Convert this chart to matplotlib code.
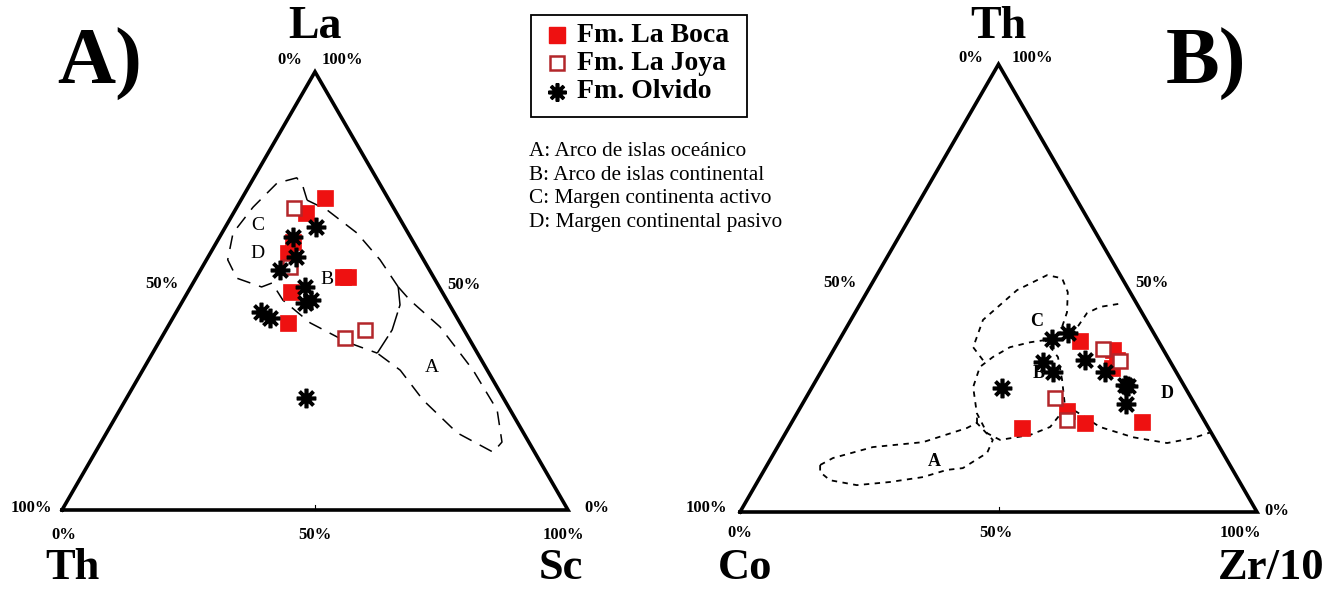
import numpy as np
import matplotlib
matplotlib.use("Agg")
import matplotlib.pyplot as plt

# ---------------- data (ternary compositions, %) ----------------
# Diagram A: La (top) - Th (left) - Sc (right)
a_boca_la = [71.2, 67.8, 61.2, 58.7, 53.2, 53.2, 49.8, 42.7]
a_boca_sc = [16.4, 14.3, 15.1, 15.3, 28.9, 29.9, 20.4, 23.3]
a_joya_la = [68.9, 55.5, 39.3, 41.1]
a_joya_sc = [11.4, 17.3, 36.3, 39.3]
a_olv_la = [64.6, 62.3, 57.7, 54.8, 50.9, 47.9, 47.2, 45.2, 43.8, 25.6]
a_olv_sc = [17.9, 14.5, 17.4, 15.7, 22.6, 25.2, 24.4, 16.7, 19.2, 35.4]

# Diagram B: Th (top) - Co (left) - Zr/10 (right)
b_boca_th = [38.2, 36.2, 33.9, 32.1, 22.5, 19.9, 18.8, 20.1]
b_boca_zr = [46.7, 54.0, 56.0, 55.9, 52.0, 56.8, 45.2, 67.7]
b_joya_th = [36.4, 33.7, 25.4, 20.5]
b_joya_zr = [52.0, 56.7, 48.2, 53.0]
b_olv_th = [38.6, 40.0, 33.9, 31.3, 33.5, 27.7, 31.3, 28.4, 28.1, 24.1]
b_olv_zr = [41.0, 43.4, 49.8, 44.9, 41.9, 36.8, 55.0, 60.3, 61.0, 62.6]

# Field boundaries (top %, right %)
a_field_cd = [(70.7, 13.1), (73.7, 10.8), (75.8, 8.5), (74.6, 5.2), (69.1, 3.2), (63.2, 2.2),
              (57.1, 4.2), (52.9, 8.1), (50.9, 14.0), (51.8, 15.6), (47.9, 19.7),
              (42.7, 27.7), (38.3, 37.2), (35.8, 44.4)]
a_field_b_top = [(70.7, 13.1), (68.5, 18.1), (63.2, 26.7), (57.1, 34.3), (50.9, 41.0)]
a_field_arc = [(50.9, 41.0), (46.8, 43.4), (41.1, 44.7), (35.8, 44.4)]
a_field_a = [(50.9, 41.0), (47.9, 44.8), (41.8, 53.8), (31.9, 65.3), (22.8, 74.6), (15.5, 79.2),
             (13.2, 78.6), (17.6, 69.3), (25.1, 58.8), (31.9, 50.9), (35.8, 44.4)]

b_field_c = [(33.9, 30.05), (36.8, 26.7), (42.9, 25.55), (49.55, 28.8), (52.9, 32.95),
             (52.2, 36.2), (49.1, 38.85), (44.6, 40.95), (40.0, 41.9)]
b_field_b = [(38.4, 39.8), (37.9, 37.15), (36.8, 33.8), (34.6, 31.6), (32.4, 30.2), (27.9, 31.15),
             (22.1, 34.75), (17.6, 39.0), (16.1, 42.25), (17.2, 47.5), (19.0, 50.5), (23.2, 51.3),
             (29.5, 47.55), (34.6, 44.2), (38.4, 39.8)]
b_field_d_top = [(39.5, 44.45), (44.4, 44.9), (45.8, 46.7), (46.65, 50.8)]
b_field_d_bot = [(23.9, 50.95), (22.3, 54.05), (19.0, 60.1), (16.7, 67.65), (15.4, 74.9),
                 (16.5, 79.35), (17.9, 82.35)]
b_field_a = [(10.5, 10.25), (12.05, 11.95), (14.5, 18.45), (15.6, 27.6), (18.75, 34.5),
             (19.9, 35.85), (16.1, 40.85), (13.2, 41.2), (9.8, 38.2), (9.4, 35.3), (7.8, 31.5),
             (6.7, 25.65), (6.0, 19.6), (7.1, 13.85), (8.9, 11.05), (10.5, 10.25)]
b_field_link = [(19.9, 35.85), (22.1, 34.75)]

legend_labels = ["Fm. La Boca", "Fm. La Joya", "Fm. Olvido"]
field_labels = ["A: Arco de islas oceánico", "B: Arco de islas continental",
                "C: Margen continenta activo", "D: Margen continental pasivo"]

# ---------------- layout ----------------
W, H = 1327, 589
fig = plt.figure(figsize=(W / 100, H / 100), dpi=100)
ax = fig.add_axes([0, 0, 1, 1])
ax.set_xlim(0, W)
ax.set_ylim(H, 0)
ax.axis("off")

SERIF = ["Liberation Serif", "DejaVu Serif"]
RED = "#ee1111"
DARKRED = "#b3262a"

triA = dict(x0=62, y0=510, side=506)
triB = dict(x0=740, y0=512, side=517)


def tern(tri, top, right):
    top = np.asarray(top, float) / 100.0
    right = np.asarray(right, float) / 100.0
    h = tri["side"] * np.sqrt(3) / 2
    x = tri["x0"] + tri["side"] * (right + top / 2)
    y = tri["y0"] - h * top
    return x, y


def draw_triangle(tri):
    x, y = tern(tri, [0, 0, 100, 0], [0, 100, 0, 0])
    ax.plot(x, y, color="black", lw=2.6, solid_joinstyle="miter", zorder=3)
    mx, my = tern(tri, [0], [50])
    ax.plot([mx[0], mx[0]], [my[0], my[0] - 5], color="black", lw=0.8, zorder=3)


def draw_field(tri, pts, **kw):
    t = [p[0] for p in pts]
    r = [p[1] for p in pts]
    x, y = tern(tri, t, r)
    ax.plot(x, y, color="black", zorder=2, **kw)


def draw_points(tri, boca_t, boca_r, joya_t, joya_r, olv_t, olv_r, sq=12, osq=10.5):
    x, y = tern(tri, boca_t, boca_r)
    ax.plot(x, y, ls="none", marker="s", ms=sq, mfc=RED, mec=RED, mew=0.5, zorder=4)
    x, y = tern(tri, joya_t, joya_r)
    ax.plot(x, y, ls="none", marker="s", ms=osq, mfc="white", mec=DARKRED, mew=1.8, zorder=5)
    x, y = tern(tri, olv_t, olv_r)
    ax.plot(x, y, ls="none", marker=(8, 2, 0), ms=14, mec="black", mew=2.6, zorder=6)


def big(px, py, s, size, ha="center"):
    ax.text(px, py, s, family=SERIF, fontweight="bold", fontsize=size, ha=ha, va="baseline")


# ---- Diagram A ----
draw_triangle(triA)
dashA = dict(lw=1.1, dashes=(9, 6))
draw_field(triA, a_field_cd, **dashA)
draw_field(triA, a_field_b_top, **dashA)
draw_field(triA, a_field_arc, lw=1.1, dashes=(14, 3))
draw_field(triA, a_field_a, **dashA)
draw_points(triA, a_boca_la, a_boca_sc, a_joya_la, a_joya_sc, a_olv_la, a_olv_sc)

for txt, (px, py) in zip(["A", "B", "C", "D"], [(432, 368), (327, 279), (258, 225), (257, 253)]):
    ax.text(px, py, txt, family=SERIF, fontsize=14, ha="center", va="center", zorder=7)

big(100, 84, "A)", 58)
big(315, 38, "La", 33)
big(72, 579, "Th", 32)
big(561, 579, "Sc", 32)
pctA = [("0%", 290, 60), ("100%", 342, 60), ("50%", 162, 284), ("50%", 464, 285),
        ("100%", 31, 508), ("0%", 64, 535), ("50%", 315, 535), ("100%", 563, 535), ("0%", 597, 508)]
for t, px, py in pctA:
    ax.text(px, py, t, family=SERIF, fontweight="bold", fontsize=12, ha="center", va="center")

# ---- Diagram B ----
draw_triangle(triB)
dotB = dict(lw=1.3, dashes=(3, 3))
draw_field(triB, b_field_c, **dotB)
draw_field(triB, b_field_b, **dotB)
draw_field(triB, b_field_d_top, **dotB)
draw_field(triB, b_field_d_bot, **dotB)
draw_field(triB, b_field_a, **dotB)
draw_field(triB, b_field_link, **dotB)
draw_points(triB, b_boca_th, b_boca_zr, b_joya_th, b_joya_zr, b_olv_th, b_olv_zr, sq=11.5, osq=10)

for txt, (px, py) in zip(["A", "B", "C", "D"], [(934, 462), (1039, 374), (1037, 322), (1167, 394)]):
    ax.text(px, py, txt, family=SERIF, fontweight="bold", fontsize=13, ha="center", va="center", zorder=7)

big(1206, 84, "B)", 58)
big(998, 38, "Th", 33)
big(745, 579, "Co", 32)
big(1324, 579, "Zr/10", 32, ha="right")
pctB = [("0%", 971, 58), ("100%", 1032, 58), ("50%", 840, 283), ("50%", 1152, 283),
        ("100%", 706, 508), ("0%", 740, 533), ("50%", 996, 533), ("100%", 1240, 533), ("0%", 1277, 511)]
for t, px, py in pctB:
    ax.text(px, py, t, family=SERIF, fontweight="bold", fontsize=12, ha="center", va="center")

# ---- Legend ----
ax.add_patch(plt.Rectangle((531, 15), 216, 102, fill=False, ec="black", lw=1.3, zorder=3))
ly = [35, 63, 92]
ax.plot([557], [ly[0]], marker="s", ms=12, mfc=RED, mec=RED, ls="none")
ax.plot([557], [ly[1]], marker="s", ms=10, mfc="white", mec=DARKRED, mew=1.8, ls="none")
ax.plot([557], [ly[2]], marker=(8, 2, 0), ms=13, mec="black", mew=2.6, ls="none")
for lab, yy in zip(legend_labels, ly):
    ax.text(577, yy, lab, family=SERIF, fontweight="bold", fontsize=20, ha="left", va="center")

for i, lab in enumerate(field_labels):
    ax.text(529, 151 + i * 24, lab, family=SERIF, fontsize=15.3, ha="left", va="center")

fig.savefig("out.png", dpi=100)
